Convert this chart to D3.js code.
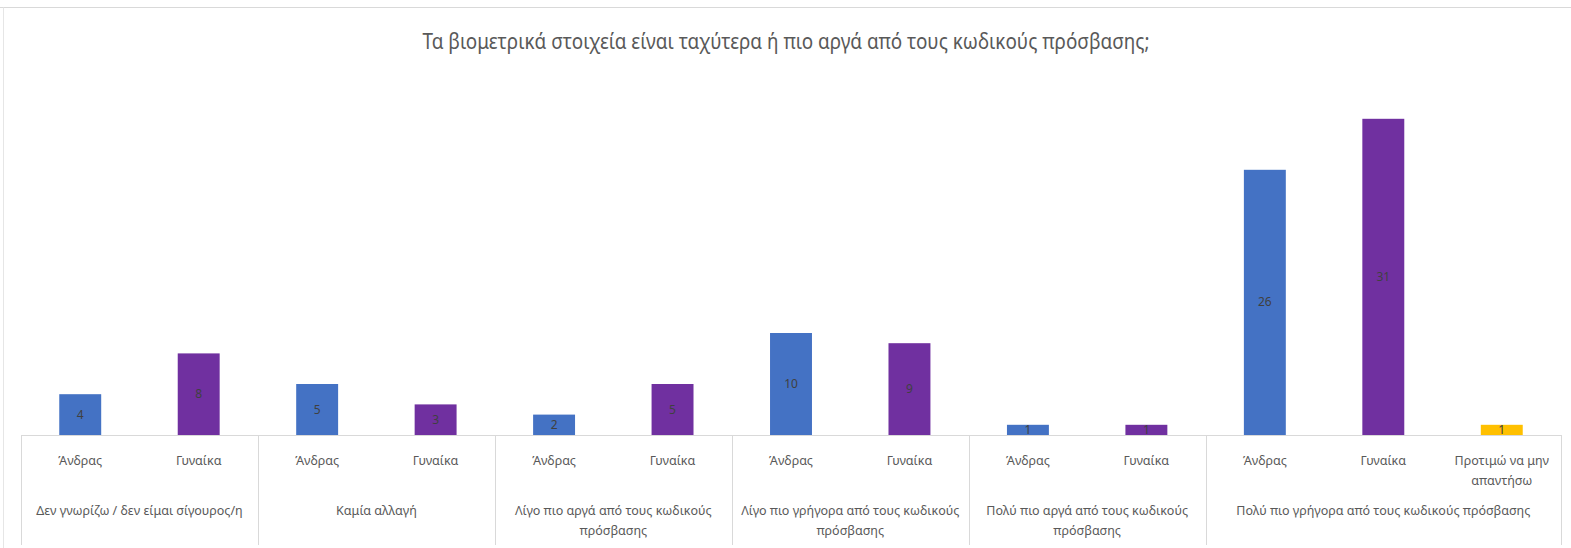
<!DOCTYPE html>
<meta charset="utf-8">
<html>
<head>
    <title>Βιομετρικά στοιχεία</title>
    <script src="https://cdn.jsdelivr.net/npm/d3@7"></script>
    <style>
        body {
            margin: 0;
            background-color: white;
        }

        #svg {
            display: block;
        }

        .title {
            font-family: "Noto Sans", sans-serif;
            font-size: 21px;
            fill: #595959;
        }

        .cat {
            font-family: "Noto Sans", sans-serif;
            font-size: 12.5px;
            fill: #595959;
        }

        .val {
            font-family: "Noto Sans", sans-serif;
            font-size: 12px;
            fill: #404040;
        }
    </style>
</head>

<body>
    <svg id="svg"></svg>

    <script>
        // data
        const groups = [
            'Δεν γνωρίζω / δεν είμαι σίγουρος/η',
            'Καμία αλλαγή',
            'Λίγο πιο αργά από τους κωδικούς πρόσβασης',
            'Λίγο πιο γρήγορα από τους κωδικούς πρόσβασης',
            'Πολύ πιο αργά από τους κωδικούς πρόσβασης',
            'Πολύ πιο γρήγορα από τους κωδικούς πρόσβασης'
        ]
        const genders = [
            ['Άνδρας', 'Γυναίκα'],
            ['Άνδρας', 'Γυναίκα'],
            ['Άνδρας', 'Γυναίκα'],
            ['Άνδρας', 'Γυναίκα'],
            ['Άνδρας', 'Γυναίκα'],
            ['Άνδρας', 'Γυναίκα', 'Προτιμώ να μην απαντήσω']
        ]
        const values = [
            [4, 8],
            [5, 3],
            [2, 5],
            [10, 9],
            [1, 1],
            [26, 31, 1]
        ]
        const colors = {
            'Άνδρας': '#4472C4',
            'Γυναίκα': '#7030A0',
            'Προτιμώ να μην απαντήσω': '#FFC000'
        }
        const title = 'Τα βιομετρικά στοιχεία είναι ταχύτερα ή πιο αργά από τους κωδικούς πρόσβασης;'

        const width = 1571
        const height = 548
        const margin = { left: 21, right: 10, top: 78, bottom: 113 }

        let svg = d3.select('#svg')
            .attr('width', width)
            .attr('height', height)

        // flatten into one slot per bar
        let slots = []
        groups.forEach((g, gi) => {
            genders[gi].forEach((s, si) => {
                slots.push({ id: gi + '-' + si, group: g, gi: gi, sub: s, value: values[gi][si] })
            })
        })

        let x = d3.scaleBand()
            .domain(slots.map(d => d.id))
            .range([margin.left, width - margin.right])
            .paddingInner(0.646)
            .paddingOuter(0.323)

        let y = d3.scaleLinear()
            .domain([0, 35])
            .range([height - margin.bottom, margin.top])

        const step = x.step()
        const base = y(0)

        // chart frame bits
        svg.append('line')
            .attr('x1', 0).attr('x2', width)
            .attr('y1', 7.5).attr('y2', 7.5)
            .attr('stroke', '#d9d9d9')
        svg.append('line')
            .attr('x1', 3.5).attr('x2', 3.5)
            .attr('y1', 7.5).attr('y2', height)
            .attr('stroke', '#e6e6e6')

        // the original title font is narrow, so squeeze it to the same width
        svg.append('text')
            .attr('class', 'title')
            .attr('x', 786)
            .attr('y', 49)
            .attr('text-anchor', 'middle')
            .attr('textLength', 727)
            .attr('lengthAdjust', 'spacingAndGlyphs')
            .text(title)

        // bars
        svg.selectAll('rect.bar')
            .data(slots)
            .enter()
            .append('rect')
            .attr('class', 'bar')
            .attr('x', d => x(d.id))
            .attr('width', x.bandwidth())
            .attr('y', d => y(d.value))
            .attr('height', d => base - y(d.value))
            .attr('fill', d => colors[d.sub])

        svg.selectAll('text.val')
            .data(slots)
            .enter()
            .append('text')
            .attr('class', 'val')
            .attr('x', d => x(d.id) + x.bandwidth() / 2)
            .attr('y', d => (y(d.value) + base) / 2 + 4)
            .attr('text-anchor', 'middle')
            .text(d => d.value)

        // category axis
        svg.append('line')
            .attr('x1', margin.left).attr('x2', width - margin.right)
            .attr('y1', base + 0.5).attr('y2', base + 0.5)
            .attr('stroke', '#d9d9d9')

        let edges = [margin.left]
        let n = 0
        genders.forEach(g => {
            n += g.length
            edges.push(margin.left + n * step)
        })
        svg.selectAll('line.sep')
            .data(edges)
            .enter()
            .append('line')
            .attr('class', 'sep')
            .attr('x1', d => Math.round(d) + 0.5).attr('x2', d => Math.round(d) + 0.5)
            .attr('y1', base).attr('y2', height - 3)
            .attr('stroke', '#d9d9d9')

        function wrap(sel, maxW, lineH) {
            sel.each(function () {
                let t = d3.select(this)
                let words = t.text().split(' ')
                let xPos = t.attr('x')
                t.text(null)
                let line = []
                let tspan = t.append('tspan').attr('x', xPos).attr('dy', 0)
                words.forEach(w => {
                    line.push(w)
                    tspan.text(line.join(' '))
                    if (tspan.node().getComputedTextLength() > maxW && line.length > 1) {
                        line.pop()
                        tspan.text(line.join(' '))
                        line = [w]
                        tspan = t.append('tspan').attr('x', xPos).attr('dy', lineH).text(w)
                    }
                })
            })
        }

        svg.selectAll('text.sub')
            .data(slots)
            .enter()
            .append('text')
            .attr('class', 'cat sub')
            .attr('x', d => x(d.id) + x.bandwidth() / 2)
            .attr('y', base + 30)
            .attr('text-anchor', 'middle')
            .text(d => d.sub)
            .call(wrap, step - 14, 20)

        svg.selectAll('text.grp')
            .data(groups)
            .enter()
            .append('text')
            .attr('class', 'cat grp')
            .attr('x', (d, i) => (edges[i] + edges[i + 1]) / 2)
            .attr('y', base + 80)
            .attr('text-anchor', 'middle')
            .text(d => d)
            .each(function (d, i) {
                d3.select(this).call(wrap, edges[i + 1] - edges[i] - 14, 20)
            })
    </script>
</body>
</html>
